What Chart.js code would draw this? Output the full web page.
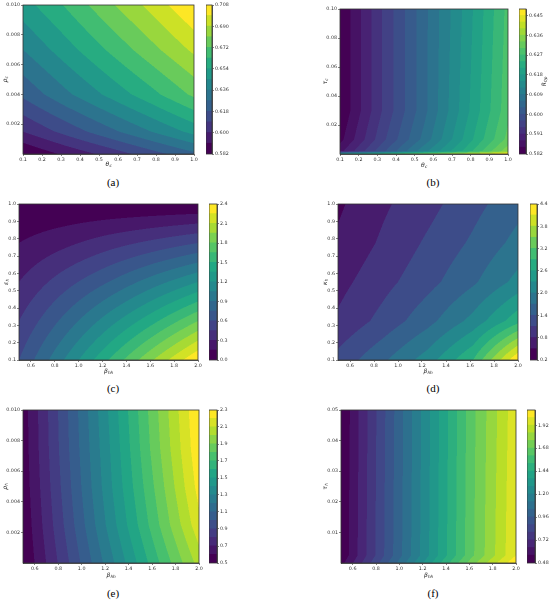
<!DOCTYPE html>
<html>
<head>
<meta charset="utf-8">
<script src="https://cdn.jsdelivr.net/npm/chart.js@4.4.1/dist/chart.umd.min.js"></script>
<style>
body{margin:0;background:#fff;width:550px;height:600px;position:relative;overflow:hidden}
canvas{position:absolute}
.cap{position:absolute;font-family:"Liberation Serif","DejaVu Serif",serif;font-size:11px;color:#000;transform:translate(-50%,-50%)}
</style>
</head>
<body>
<script>
// ---------- data ----------
// (a)
const aX=[0.1,0.325,0.55,0.775,1.0]
const aY=[0,0.0015,0.004,0.007,0.01]
const aZ=[
[0.582,0.593,0.603,0.614,0.625],
[0.600,0.612,0.624,0.636,0.648],
[0.620,0.634,0.647,0.660,0.674],
[0.636,0.650,0.664,0.678,0.692],
[0.650,0.664,0.679,0.693,0.708]]
const aLevels=[0.582,0.591,0.600,0.609,0.618,0.627,0.636,0.645,0.654,0.663,0.672,0.681,0.690,0.699,0.708]
const aCbTicks=[0.582,0.600,0.618,0.636,0.654,0.672,0.690,0.708]
const aXTicks=[0.1,0.2,0.3,0.4,0.5,0.6,0.7,0.8,0.9,1.0]
const aYTicks=[0.002,0.004,0.006,0.008,0.010]

// (b)
const bX=[0.1,0.325,0.55,0.775,1.0]
const bY=[0,0.002,0.01,0.03,0.1]
const bZ=[
[0.618,0.626,0.634,0.641,0.648],
[0.587,0.599,0.611,0.622,0.635],
[0.584,0.596,0.607,0.619,0.631],
[0.582,0.594,0.605,0.617,0.629],
[0.582,0.594,0.605,0.616,0.628]]
const bLevels=[0.582,0.585,0.588,0.591,0.594,0.597,0.600,0.603,0.606,0.609,0.612,0.615,0.618,0.621,0.624,0.627,0.630,0.633,0.636,0.639,0.642,0.645,0.648]
const bCbTicks=[0.582,0.591,0.600,0.609,0.618,0.627,0.636,0.645]
const bXTicks=[0.1,0.2,0.3,0.4,0.5,0.6,0.7,0.8,0.9,1.0]
const bYTicks=[0.02,0.04,0.06,0.08,0.10]

// (c)
const cX=[0.5,0.875,1.25,1.625,2.0]
const cY=[0.1,0.325,0.55,0.775,1.0]
const cZ=[
[0.60,1.05,1.50,1.95,2.40],
[0.45,0.79,1.13,1.46,1.80],
[0.30,0.53,0.75,0.98,1.20],
[0.15,0.26,0.38,0.49,0.60],
[0,0,0,0,0]]
const cLevels=[0,0.15,0.3,0.45,0.6,0.75,0.9,1.05,1.2,1.35,1.5,1.65,1.8,1.95,2.1,2.25,2.4]
const cCbTicks=[0,0.3,0.6,0.9,1.2,1.5,1.8,2.1,2.4]
const cXTicks=[0.6,0.8,1.0,1.2,1.4,1.6,1.8,2.0]
const cYTicks=[0.1,0.2,0.3,0.4,0.5,0.6,0.7,0.8,0.9,1.0]

// (d)
const dX=[0.5,0.875,1.25,1.625,2.0]
const dY=[0.1,0.325,0.55,0.775,1.0]
const dZ=[
[1.20,1.65,2.15,2.90,4.40],
[0.85,1.20,1.60,2.10,2.80],
[0.70,1.00,1.30,1.65,2.10],
[0.55,0.85,1.15,1.45,1.80],
[0.45,0.75,1.00,1.30,1.60]]
const dLevels=[0.2,0.5,0.8,1.1,1.4,1.7,2.0,2.3,2.6,2.9,3.2,3.5,3.8,4.1,4.4]
const dCbTicks=[0.2,0.8,1.4,2.0,2.6,3.2,3.8,4.4]
const dXTicks=[0.6,0.8,1.0,1.2,1.4,1.6,1.8,2.0]
const dYTicks=[0.1,0.2,0.3,0.4,0.5,0.6,0.7,0.8,0.9,1.0]

// (e)
const eX=[0.5,0.875,1.25,1.625,2.0]
const eY=[0,0.0025,0.005,0.0075,0.01]
const eZ=[
[0.50,0.88,1.27,1.66,2.04],
[0.52,0.93,1.35,1.76,2.17],
[0.535,0.96,1.39,1.81,2.24],
[0.545,0.98,1.41,1.85,2.28],
[0.55,0.99,1.43,1.87,2.30]]
const eLevels=[0.5,0.6,0.7,0.8,0.9,1.0,1.1,1.2,1.3,1.4,1.5,1.6,1.7,1.8,1.9,2.0,2.1,2.2,2.3]
const eCbTicks=[0.5,0.7,0.9,1.1,1.3,1.5,1.7,1.9,2.1,2.3]
const eXTicks=[0.6,0.8,1.0,1.2,1.4,1.6,1.8,2.0]
const eYTicks=[0.002,0.004,0.006,0.008,0.010]

// (f)
const fX=[0.5,0.875,1.25,1.625,2.0]
const fY=[0,0.0025,0.05]
const fZ=[
[0.53,0.93,1.33,1.73,2.07],
[0.49,0.885,1.275,1.665,2.00],
[0.48,0.875,1.265,1.655,1.98]]
const fLevels=[0.48,0.56,0.64,0.72,0.80,0.88,0.96,1.04,1.12,1.20,1.28,1.36,1.44,1.52,1.60,1.68,1.76,1.84,1.92,2.00,2.08]
const fCbTicks=[0.48,0.72,0.96,1.20,1.44,1.68,1.92]
const fXTicks=[0.6,0.8,1.0,1.2,1.4,1.6,1.8,2.0]
const fYTicks=[0.01,0.02,0.03,0.04,0.05]

// ---------- colours ----------
const VIR=['#440154','#482475','#414487','#355f8d','#2a788e','#21918c','#22a884','#44bf70','#7ad151','#bddf26','#fde725']
.map(h=>[parseInt(h.slice(1,3),16),parseInt(h.slice(3,5),16),parseInt(h.slice(5,7),16)])

function viridis(t){
t=Math.min(1,Math.max(0,t))
let s=t*(VIR.length-1)
let i=Math.min(Math.floor(s),VIR.length-2)
let f=s-i
return VIR[i].map((c,k)=>Math.round(c+(VIR[i+1][k]-c)*f))
}
function bandColors(levels){
let n=levels.length-1,out=[]
for(let i=0;i<n;i++)out.push(viridis(i/(n-1)))
return out
}
const rgb=c=>"rgb("+c[0]+","+c[1]+","+c[2]+")"

// ---------- helpers ----------
function cell(arr,v){
let i=0
while(i<arr.length-2 && v>arr[i+1])i++
return i
}
function valueAt(p,x,y){
let i=cell(p.x,x),j=cell(p.y,y)
let tx=(x-p.x[i])/(p.x[i+1]-p.x[i]),ty=(y-p.y[j])/(p.y[j+1]-p.y[j])
tx=Math.min(1,Math.max(0,tx));ty=Math.min(1,Math.max(0,ty))
let z=p.z
return z[j][i]*(1-tx)*(1-ty)+z[j][i+1]*tx*(1-ty)+z[j+1][i]*(1-tx)*ty+z[j+1][i+1]*tx*ty
}
function bandOf(levels,v){
let k=0
while(k<levels.length-2 && v>=levels[k+1])k++
return k
}

const panels={}
const INK="#333"
const tickFont={size:4.8,family:"DejaVu Sans"}

const contourFill={
id:"contourFill",
beforeDatasetsDraw(chart){
let p=panels[chart.canvas.id]
if(!p||!p.z)return
let a=chart.chartArea,sx=chart.scales.x,sy=chart.scales.y
let x0=Math.floor(a.left),y0=Math.floor(a.top)
let w=Math.ceil(a.right)-x0,h=Math.ceil(a.bottom)-y0
let cols=bandColors(p.levels)
let img=chart.ctx.createImageData(w,h)
let ss=[0.25,0.75]
for(let py=0;py<h;py++){
for(let px=0;px<w;px++){
let r=0,g=0,b=0
for(let u of ss)for(let v of ss){
let c=cols[bandOf(p.levels,valueAt(p,sx.getValueForPixel(x0+px+u),sy.getValueForPixel(y0+py+v)))]
r+=c[0];g+=c[1];b+=c[2]
}
let q=(py*w+px)*4
img.data[q]=r/4;img.data[q+1]=g/4;img.data[q+2]=b/4;img.data[q+3]=255
}
}
chart.ctx.putImageData(img,x0,y0)
}
}

function subText(ctx,main,sub,x,y,rot){
ctx.save()
ctx.translate(x,y);ctx.rotate(rot)
ctx.fillStyle="#222";ctx.textBaseline="middle";ctx.textAlign="left"
ctx.font="italic 6px 'DejaVu Sans'"
let w1=ctx.measureText(main).width
ctx.font="italic 4.2px 'DejaVu Sans'"
let w2=ctx.measureText(sub).width
let s=-(w1+w2)/2
ctx.font="italic 6px 'DejaVu Sans'"
ctx.fillText(main,s,0)
ctx.font="italic 4.2px 'DejaVu Sans'"
ctx.fillText(sub,s+w1+0.2,1.6)
ctx.restore()
}

const frameAndTitles={
id:"frameAndTitles",
afterDraw(chart){
let p=panels[chart.canvas.id]
let a=chart.chartArea,ctx=chart.ctx
ctx.save()
ctx.strokeStyle=INK;ctx.lineWidth=0.8
ctx.strokeRect(a.left,a.top,a.right-a.left,a.bottom-a.top)
ctx.restore()
if(p.xt)subText(ctx,p.xt[0],p.xt[1],(a.left+a.right)/2,a.bottom+p.xt[2],0)
if(p.yt)subText(ctx,p.yt[0],p.yt[1],a.left-p.yt[2],(a.top+a.bottom)/2,-Math.PI/2)
if(p.ct)subText(ctx,p.ct[0],p.ct[1],a.right+p.ct[2],(a.top+a.bottom)/2,-Math.PI/2)
}
}

function addCanvas(id,left,top,w,h){
let c=document.createElement("canvas")
c.id=id;c.width=w;c.height=h
c.style.left=left+"px";c.style.top=top+"px"
c.style.width=w+"px";c.style.height=h+"px"
document.body.appendChild(c)
return c
}

function makePanel(name,d,lay){
// main contour plot
let cv=addCanvas("m"+name,lay.L-30,lay.T-6,lay.R-lay.L+38,lay.B-lay.T+26)
panels[cv.id]={x:d.x,y:d.y,z:d.z,levels:d.levels,xt:d.xt,yt:d.yt}
let pts=[]
d.y.forEach(yv=>d.x.forEach(xv=>pts.push({x:xv,y:yv})))
new Chart(cv,{
type:"scatter",
data:{datasets:[{data:pts,pointRadius:0,showLine:false}]},
options:{
animation:false,responsive:false,events:[],
layout:{padding:{left:0,top:6,right:8,bottom:0}},
plugins:{legend:{display:false},tooltip:{enabled:false}},
scales:{
x:{type:"linear",min:d.x[0],max:d.x[d.x.length-1],
afterBuildTicks(s){s.ticks=d.xTicks.map(v=>({value:v}))},
afterFit(s){s.height=20},
ticks:{font:tickFont,color:INK,padding:1,maxRotation:0,autoSkip:false,callback:v=>v.toFixed(d.xDec)},
grid:{drawOnChartArea:false,tickLength:2,color:INK,lineWidth:0.6},
border:{color:INK,width:0.8}},
y:{type:"linear",min:d.y[0],max:d.y[d.y.length-1],
afterBuildTicks(s){s.ticks=d.yTicks.map(v=>({value:v}))},
afterFit(s){s.width=30},
ticks:{font:tickFont,color:INK,padding:1,autoSkip:false,callback:v=>v.toFixed(d.yDec)},
grid:{drawOnChartArea:false,tickLength:2,color:INK,lineWidth:0.6},
border:{color:INK,width:0.8}}
}
},
plugins:[contourFill,frameAndTitles]
})

// colour bar
let cb=addCanvas("c"+name,lay.cbL,lay.T-6,lay.cbR-lay.cbL+34,lay.B-lay.T+12)
panels[cb.id]={ct:d.ct}
let cols=bandColors(d.levels)
new Chart(cb,{
type:"bar",
data:{labels:[""],datasets:d.levels.slice(0,-1).map((lo,i)=>({
data:[[lo,d.levels[i+1]]],backgroundColor:rgb(cols[i]),borderWidth:0,
grouped:false,barPercentage:1,categoryPercentage:1,inflateAmount:0.5}))},
options:{
animation:false,responsive:false,events:[],
layout:{padding:{left:0,top:6,right:0,bottom:6}},
plugins:{legend:{display:false},tooltip:{enabled:false}},
scales:{
x:{display:false},
y:{position:"right",min:d.levels[0],max:d.levels[d.levels.length-1],
afterBuildTicks(s){s.ticks=d.cbTicks.map(v=>({value:v}))},
afterFit(s){s.width=34},
ticks:{font:tickFont,color:INK,padding:1,autoSkip:false,callback:v=>v.toFixed(d.cbDec)},
grid:{drawOnChartArea:false,tickLength:2,color:INK,lineWidth:0.6},
border:{color:INK,width:0.8}}
}
},
plugins:[frameAndTitles]
})

let cap=document.createElement("div")
cap.className="cap";cap.textContent="("+name+")"
cap.style.left=lay.capX+"px";cap.style.top=lay.capY+"px"
document.body.appendChild(cap)
}

makePanel("a",{x:aX,y:aY,z:aZ,levels:aLevels,cbTicks:aCbTicks,xTicks:aXTicks,yTicks:aYTicks,xDec:1,yDec:3,cbDec:3,
xt:["θ","c",10],yt:["ρ","c",18]},
{L:23,T:5,R:194,B:154,cbL:206,cbR:212,capX:113,capY:182})

makePanel("b",{x:bX,y:bY,z:bZ,levels:bLevels,cbTicks:bCbTicks,xTicks:bXTicks,yTicks:bYTicks,xDec:1,yDec:2,cbDec:3,
xt:["θ","c",11],yt:["τ","c",15],ct:["R","0p",18]},
{L:340,T:9,R:508,B:154,cbL:519,cbR:526,capX:433,capY:182})

makePanel("c",{x:cX,y:cY,z:cZ,levels:cLevels,cbTicks:cCbTicks,xTicks:cXTicks,yTicks:cYTicks,xDec:1,yDec:1,cbDec:1,
xt:["β","hh",11],yt:["ε","h",13]},
{L:19,T:204,R:198,B:360,cbL:209,cbR:217,capX:113,capY:388})

makePanel("d",{x:dX,y:dY,z:dZ,levels:dLevels,cbTicks:dCbTicks,xTicks:dXTicks,yTicks:dYTicks,xDec:1,yDec:1,cbDec:1,
xt:["β","hh",11],yt:["κ","h",13]},
{L:338,T:204,R:518,B:360,cbL:530,cbR:537,capX:433,capY:388})

makePanel("e",{x:eX,y:eY,z:eZ,levels:eLevels,cbTicks:eCbTicks,xTicks:eXTicks,yTicks:eYTicks,xDec:1,yDec:3,cbDec:1,
xt:["β","hh",12],yt:["ρ","h",18]},
{L:23,T:410,R:199,B:563,cbL:209,cbR:217,capX:113,capY:593})

makePanel("f",{x:fX,y:fY,z:fZ,levels:fLevels,cbTicks:fCbTicks,xTicks:fXTicks,yTicks:fYTicks,xDec:1,yDec:2,cbDec:2,
xt:["β","hh",12],yt:["τ","h",16]},
{L:341,T:410,R:516,B:563,cbL:527,cbR:535,capX:433,capY:593})
</script>
</body>
</html>
